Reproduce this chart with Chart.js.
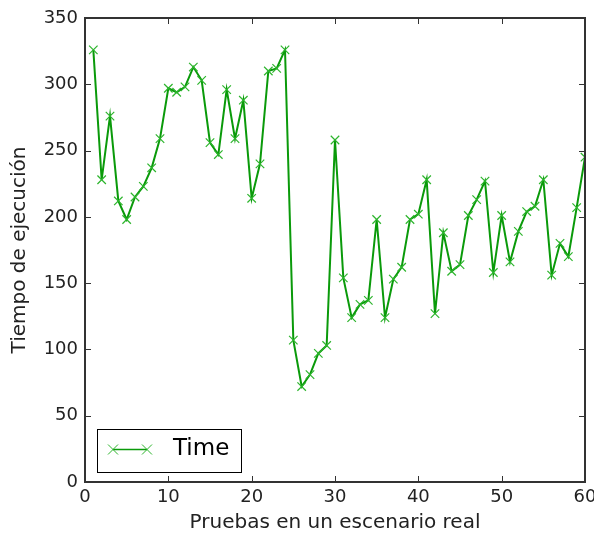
<!DOCTYPE html>
<html>
<head>
<meta charset="utf-8">
<script src="https://cdn.jsdelivr.net/npm/chart.js@4/dist/chart.umd.min.js"></script>
<style>
html,body{margin:0;padding:0;background:#fff;}
#wrap{width:594px;height:535px;position:relative;}
</style>
</head>
<body>
<div id="wrap"><canvas id="c" width="594" height="535"></canvas></div>
<script>
const seriesLabel = "Time";
const xValues = [1,2,3,4,5,6,7,8,9,10,11,12,13,14,15,16,17,18,19,20,21,22,23,24,25,26,27,28,29,30,31,32,33,34,35,36,37,38,39,40,41,42,43,44,45,46,47,48,49,50,51,52,53,54,55,56,57,58,59,60];
const timeValues = [326,228,276,212,198,215,223,237,259,297,294,298,313,303,256,247,296,259,288,214,240,310,312,326,107,72,81,97,103,258,154,124,134,137,198,124,153,162,198,202,228,127,188,159,164,201,213,227,158,201,166,189,204,208,228,156,180,170,207,245];
const xTicks = [0,10,20,30,40,50,60];
const yTicks = [0,50,100,150,200,250,300,350];
const xTitle = "Pruebas en un escenario real";
const yTitle = "Tiempo de ejecución";

const FONT = "'DejaVu Sans', sans-serif";
const lineColor = "#0a9a0a";
const markColor = "#2db52d";

const framePlugin = {
  id: 'frame',
  afterDatasetsDraw(chart) {
    const {ctx, chartArea: a, scales} = chart;
    ctx.save();
    ctx.strokeStyle = '#333';
    ctx.lineWidth = 1;
    ctx.beginPath();
    xTicks.forEach(v => {
      const x = Math.round(scales.x.getPixelForValue(v)) + 0.5;
      ctx.moveTo(x, a.bottom); ctx.lineTo(x, a.bottom - 6);
      ctx.moveTo(x, a.top); ctx.lineTo(x, a.top + 6);
    });
    yTicks.forEach(v => {
      const y = Math.round(scales.y.getPixelForValue(v)) + 0.5;
      ctx.moveTo(a.left, y); ctx.lineTo(a.left + 6, y);
      ctx.moveTo(a.right, y); ctx.lineTo(a.right - 6, y);
    });
    ctx.stroke();
    ctx.lineWidth = 2;
    ctx.strokeStyle = '#333';
    ctx.strokeRect(a.left, a.top, a.right - a.left, a.bottom - a.top);

    // legend
    const ds = chart.data.datasets[0];
    const bx = a.left + 12, by = a.bottom - 53, bw = 144, bh = 43;
    ctx.fillStyle = '#fff';
    ctx.fillRect(bx, by, bw, bh);
    ctx.lineWidth = 1;
    ctx.strokeStyle = '#000';
    ctx.strokeRect(bx + 0.5, by + 0.5, bw, bh);
    const ly = by + 20.5;
    const x1 = bx + 16, x2 = bx + 50;
    ctx.strokeStyle = lineColor;
    ctx.lineWidth = 1.5;
    ctx.beginPath(); ctx.moveTo(x1, ly); ctx.lineTo(x2, ly); ctx.stroke();
    ctx.strokeStyle = markColor;
    ctx.lineWidth = 1;
    [x1, x2].forEach(px => {
      ctx.beginPath();
      ctx.moveTo(px - 5, ly - 5); ctx.lineTo(px + 5, ly + 5);
      ctx.moveTo(px - 5, ly + 5); ctx.lineTo(px + 5, ly - 5);
      ctx.stroke();
    });
    ctx.fillStyle = '#000';
    ctx.font = "23px " + FONT;
    ctx.textBaseline = 'middle';
    ctx.textAlign = 'left';
    ctx.fillText(ds.label, bx + 76, ly);
    ctx.restore();
  }
};

new Chart(document.getElementById('c'), {
  type: 'line',
  data: {
    datasets: [{
      label: seriesLabel,
      data: xValues.map((x, i) => ({x: x, y: timeValues[i]})),
      borderColor: lineColor,
      borderWidth: 2,
      pointStyle: 'crossRot',
      pointRadius: 6,
      pointBorderColor: markColor,
      pointBorderWidth: 1.2,
      pointBackgroundColor: markColor,
      tension: 0,
      fill: false
    }]
  },
  options: {
    responsive: false,
    animation: false,
    devicePixelRatio: 1,
    layout: {padding: {top: 18, right: 9, left: 0, bottom: 0}},
    plugins: {legend: {display: false}, tooltip: {enabled: false}},
    scales: {
      x: {
        type: 'linear', min: 0, max: 60,
        afterBuildTicks: s => { s.ticks = xTicks.map(v => ({value: v})); },
        afterFit: s => { s.height = 53; s.paddingLeft = 0; s.paddingRight = 0; },
        grid: {display: false, drawTicks: false},
        border: {display: false},
        ticks: {color: '#222', font: {family: FONT, size: 18}, padding: 5, maxRotation: 0},
        title: {display: true, text: xTitle, color: '#222', font: {family: FONT, size: 20}, padding: {top: 0, bottom: 0}}
      },
      y: {
        type: 'linear', min: 0, max: 350,
        afterBuildTicks: s => { s.ticks = yTicks.map(v => ({value: v})); },
        afterFit: s => { s.width = 85; s.paddingTop = 0; s.paddingBottom = 0; },
        grid: {display: false, drawTicks: false},
        border: {display: false},
        ticks: {color: '#222', font: {family: FONT, size: 18}, padding: 7},
        title: {display: true, text: yTitle, color: '#222', font: {family: FONT, size: 20}, padding: {top: 8, bottom: 0}}
      }
    }
  },
  plugins: [framePlugin]
});
</script>
</body>
</html>
